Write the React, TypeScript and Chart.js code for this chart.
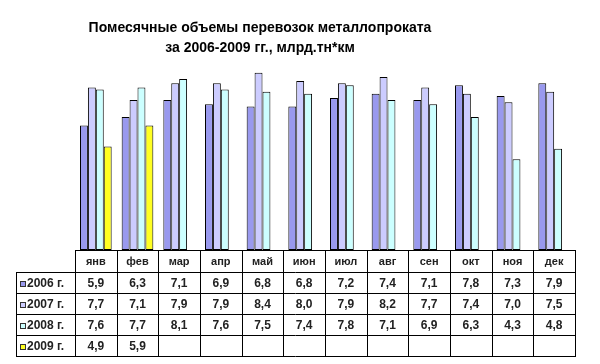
import React, { useEffect, useRef } from "react";
import { Chart, registerables } from "chart.js";

Chart.register(...registerables);

const titleLines = ["Помесячные объемы перевозок металлопроката", "за 2006-2009 гг., млрд.тн*км"];
const months = ["янв", "фев", "мар", "апр", "май", "июн", "июл", "авг", "сен", "окт", "ноя", "дек"];
const seriesNames = ["2006 г.", "2007 г.", "2008 г.", "2009 г."];
const s2006 = [5.9, 6.3, 7.1, 6.9, 6.8, 6.8, 7.2, 7.4, 7.1, 7.8, 7.3, 7.9];
const s2007 = [7.7, 7.1, 7.9, 7.9, 8.4, 8.0, 7.9, 8.2, 7.7, 7.4, 7.0, 7.5];
const s2008 = [7.6, 7.7, 8.1, 7.6, 7.5, 7.4, 7.8, 7.1, 6.9, 6.3, 4.3, 4.8];
const s2009 = [4.9, 5.9, null, null, null, null, null, null, null, null, null, null];
const colors = ["#9999EE", "#CCCCFF", "#CCFFFF", "#FFFF22"];

const fmt = (v: number | null) => (v == null ? "" : v.toFixed(1).replace(".", ","));

const tablePlugin = {
  id: "tablePlugin",
  afterDraw(chart: any) {
    const ctx = chart.ctx;
    const xs = chart.scales.x;
    const area = chart.chartArea;
    const left = area.left;
    const right = area.right;
    const n = months.length;
    const cw = (right - left) / n;
    const top = area.bottom;
    const headerH = 22;
    const rowH = 21;
    const labelLeft = 16;
    const all = [s2006, s2007, s2008, s2009];
    ctx.save();
    // title
    ctx.fillStyle = "#000";
    ctx.font = "bold 14px 'Liberation Sans', Arial, sans-serif";
    ctx.textAlign = "center";
    ctx.textBaseline = "middle";
    ctx.fillText(titleLines[0], 260, 28);
    ctx.fillText(titleLines[1], 260, 48);

    // grid lines
    ctx.strokeStyle = "#000";
    ctx.lineWidth = 1;
    const yRows = [top, top + headerH];
    for (let i = 1; i <= 4; i++) yRows.push(top + headerH + rowH * i);
    const bottom = yRows[yRows.length - 1];
    ctx.beginPath();
    ctx.moveTo(left, Math.round(top) + 0.5);
    ctx.lineTo(right, Math.round(top) + 0.5);
    for (let i = 1; i < yRows.length; i++) {
      const y = Math.round(yRows[i]) + 0.5;
      ctx.moveTo(labelLeft, y);
      ctx.lineTo(right, y);
    }
    ctx.moveTo(labelLeft + 0.5, Math.round(top + headerH));
    ctx.lineTo(labelLeft + 0.5, Math.round(bottom) + 1);
    for (let i = 0; i <= n; i++) {
      const x = Math.round(left + cw * i) + 0.5;
      ctx.moveTo(x, Math.round(top));
      ctx.lineTo(x, Math.round(bottom) + 1);
    }
    ctx.stroke();

    // header
    ctx.fillStyle = "#222";
    ctx.font = "bold 11px 'Liberation Sans', Arial, sans-serif";
    months.forEach((m, i) => {
      ctx.fillText(m, xs.getPixelForValue(i), top + headerH / 2 + 1);
    });
    // rows
    for (let r = 0; r < 4; r++) {
      const yc = top + headerH + rowH * r + rowH / 2 + 1;
      ctx.fillStyle = colors[r];
      ctx.fillRect(20, Math.round(yc) - 3, 6, 6);
      ctx.strokeStyle = "#333";
      ctx.strokeRect(20.5, Math.round(yc) - 2.5, 5, 5);
      ctx.fillStyle = "#222";
      ctx.font = "bold 12px 'Liberation Sans', Arial, sans-serif";
      ctx.textAlign = "left";
      ctx.fillText(seriesNames[r], 27, yc);
      ctx.textAlign = "center";
      all[r].forEach((v, i) => {
        ctx.fillText(fmt(v as any), xs.getPixelForValue(i), yc);
      });
    }
    ctx.restore();
  },
};

export default function App() {
  const ref = useRef<HTMLCanvasElement>(null);
  useEffect(() => {
    if (!ref.current) return;
    const series = [s2006, s2007, s2008, s2009];
    const chart = new Chart(ref.current, {
      type: "bar",
      data: {
        labels: months,
        datasets: series.map((d, i) => ({
          label: seriesNames[i],
          data: d as any,
          backgroundColor: colors[i],
          borderColor: "#000",
          borderWidth: 1,
          borderSkipped: false,
          categoryPercentage: 0.76,
          barPercentage: 1,
        })),
      },
      options: {
        responsive: false,
        animation: false,
        layout: { padding: { left: 75, right: 25, top: 60, bottom: 114 } },
        plugins: { legend: { display: false }, title: { display: false }, tooltip: { enabled: false } },
        scales: {
          x: { display: false },
          y: { display: false, min: 0, max: 9 },
        },
      },
      plugins: [tablePlugin],
    });
    return () => chart.destroy();
  }, []);
  return (
    <div style={{ position: "absolute", left: 0, top: 0, width: 600, height: 364, background: "#fff" }}>
      <canvas ref={ref} width={600} height={364} style={{ width: 600, height: 364 }} />
    </div>
  );
}
